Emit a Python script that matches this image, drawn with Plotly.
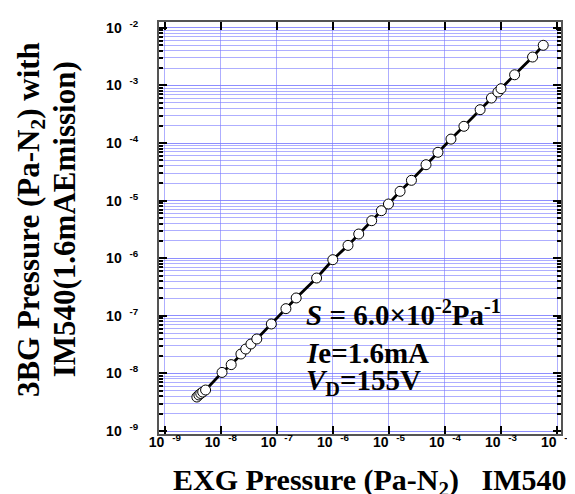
import plotly.graph_objects as go

# EXG pressure (Pa-N2), IM540
exg = [3.73e-9, 4.05e-9, 4.38e-9, 4.74e-9, 5.34e-9, 1.05e-8, 1.53e-8, 2.28e-8, 2.78e-8,
       3.44e-8, 4.38e-8, 7.96e-8, 1.45e-7, 2.21e-7, 5.12e-7, 9.96e-7, 1.86e-6, 2.89e-6,
       4.92e-6, 7.33e-6, 9.80e-6, 1.58e-5, 2.52e-5, 4.59e-5, 7.50e-5, 1.28e-4, 2.18e-4,
       4.24e-4, 6.75e-4, 8.81e-4, 1.00e-3, 1.75e-3, 3.66e-3, 5.67e-3]
# 3BG pressure (Pa-N2) with IM540
bg3 = [3.89e-9, 4.22e-9, 4.48e-9, 4.75e-9, 5.15e-9, 1.04e-8, 1.42e-8, 2.17e-8, 2.65e-8,
       3.24e-8, 3.96e-8, 7.21e-8, 1.33e-7, 2.04e-7, 4.53e-7, 9.42e-7, 1.67e-6, 2.63e-6,
       4.48e-6, 6.68e-6, 8.73e-6, 1.45e-5, 2.25e-5, 4.20e-5, 6.90e-5, 1.17e-4, 1.95e-4,
       3.79e-4, 6.04e-4, 7.67e-4, 8.77e-4, 1.53e-3, 3.11e-3, 4.97e-3]

tick_vals = [1e-9, 1e-8, 1e-7, 1e-6, 1e-5, 1e-4, 1e-3, 1e-2]
exponents = ["-9", "-8", "-7", "-6", "-5", "-4", "-3", "-2"]
tick_text = ["10&nbsp;&nbsp;<sup>" + e + "</sup>" for e in exponents]

grid_c = "rgba(120,120,255,0.6)"
frame_c = "#555555"
tick_font = dict(family="Liberation Sans, Arial", size=14, color="black", weight="bold")
serif = "Liberation Serif, Times New Roman"

fig = go.Figure()
fig.add_trace(go.Scatter(
    x=exg, y=bg3, mode="lines+markers",
    line=dict(color="black", width=2.8),
    marker=dict(symbol="circle", size=10, color="white", line=dict(color="black", width=1)),
    showlegend=False,
))

fig.update_xaxes(
    type="log", range=[-9.104, -1.929],
    tickmode="array", tickvals=tick_vals, ticktext=tick_text,
    tickfont=tick_font, ticks="inside", ticklen=8, tickwidth=1.5, tickcolor="black",
    ticklabelstandoff=-6, ticklabeloverflow="allow",
    showgrid=True, gridcolor=grid_c, gridwidth=1,
    showline=True, linecolor=frame_c, linewidth=2, mirror="allticks",
    zeroline=False,
)
fig.update_yaxes(
    type="log", range=[-9.052, -1.899],
    tickmode="array", tickvals=tick_vals, ticktext=tick_text,
    tickfont=tick_font, ticks="inside", ticklen=8, tickwidth=1.5, tickcolor="black",
    ticklabelstandoff=16, ticklabeloverflow="allow",
    showgrid=True, gridcolor=grid_c, gridwidth=1,
    showline=True, linecolor=frame_c, linewidth=2, mirror="allticks",
    zeroline=False,
    minor=dict(ticks="inside", ticklen=4, tickcolor="black", dtick="D1",
               showgrid=True, gridcolor=grid_c, gridwidth=1),
)

ann_font = dict(family=serif, size=29, color="black", weight="bold")
annotations = [
    dict(text="<i>S</i> = 6.0×10<sup>-2</sup>Pa<sup>-1</sup>", x=0.36, y=0.293,
         xref="paper", yref="paper", xanchor="left", yanchor="middle", showarrow=False, font=ann_font),
    dict(text="<i>I</i>e=1.6mA", x=0.36, y=0.197,
         xref="paper", yref="paper", xanchor="left", yanchor="middle", showarrow=False, font=ann_font),
    dict(text="<i>V</i><sub>D</sub>=155V", x=0.36, y=0.127,
         xref="paper", yref="paper", xanchor="left", yanchor="middle", showarrow=False, font=ann_font),
    dict(text="EXG Pressure (Pa-N<sub>2</sub>)&nbsp;&nbsp;&nbsp;IM540", x=0.525, y=-0.117,
         xref="paper", yref="paper", xanchor="center", yanchor="middle", showarrow=False,
         font=dict(family=serif, size=30, color="black", weight="bold")),
    dict(text="3BG Pressure (Pa-N<sub>2</sub>) with", x=-0.32, y=0.52,
         xref="paper", yref="paper", xanchor="center", yanchor="middle", showarrow=False,
         textangle=-90, font=dict(family=serif, size=31, color="black", weight="bold")),
    dict(text="IM540(1.6mAEmission)", x=-0.235, y=0.52,
         xref="paper", yref="paper", xanchor="center", yanchor="middle", showarrow=False,
         textangle=-90, font=dict(family=serif, size=31, color="black", weight="bold")),
]

fig.update_layout(
    width=575, height=494,
    margin=dict(l=151, r=10, t=14, b=68),
    plot_bgcolor="white", paper_bgcolor="white",
    annotations=annotations,
)

fig.write_html("out.html")
